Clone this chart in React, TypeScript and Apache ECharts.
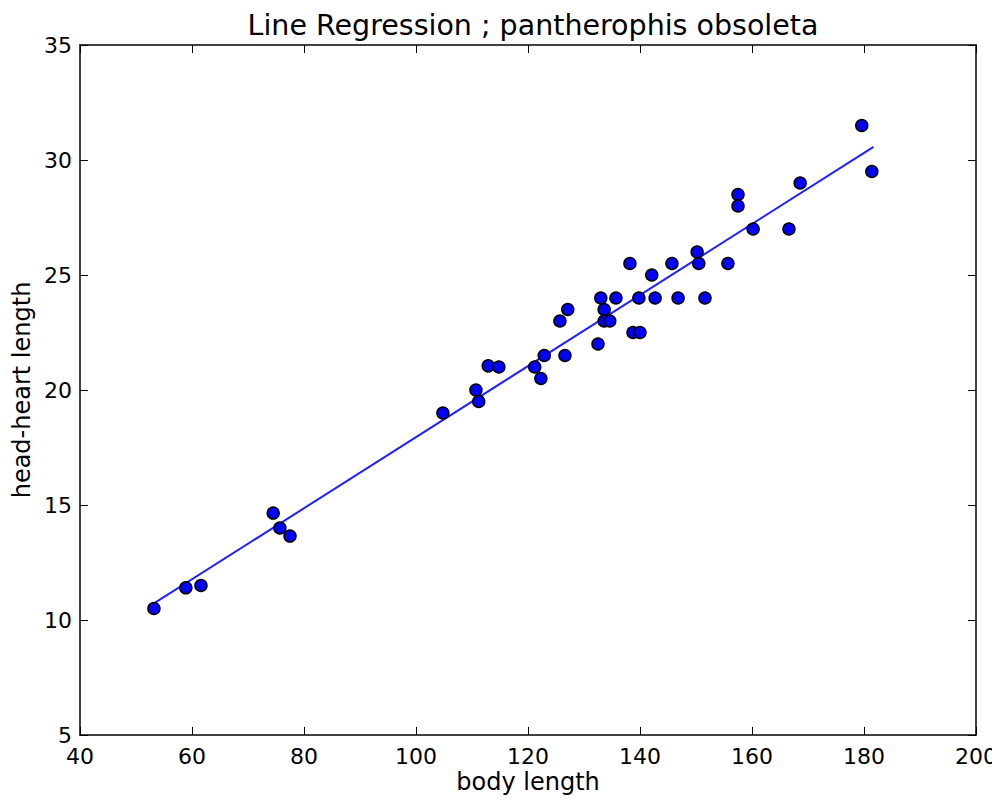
import React, { useEffect, useRef } from "react";
import * as echarts from "echarts";

const bodyLength = [
  53.2, 58.9, 61.6, 74.5, 75.7, 77.5, 104.8, 110.7, 111.2, 112.9, 114.8, 121.2, 122.3, 122.9,
  126.6, 125.7, 127.1, 132.5, 133.0, 133.6, 133.6, 134.6, 135.7, 138.2, 138.75, 140.0, 139.8,
  142.1, 142.7, 145.7, 146.8, 150.2, 150.5, 151.6, 155.7, 157.5, 157.5, 160.2, 166.6, 168.6,
  179.6, 181.4,
];
const headHeart = [
  10.5, 11.4, 11.5, 14.65, 14.0, 13.65, 19.0, 20.0, 19.5, 21.05, 21.0, 21.0, 20.5, 21.5,
  21.5, 23.0, 23.5, 22.0, 24.0, 23.5, 23.0, 23.0, 24.0, 25.5, 22.5, 22.5, 24.0,
  25.0, 24.0, 25.5, 24.0, 26.0, 25.5, 24.0, 25.5, 28.5, 28.0, 27.0, 27.0, 29.0,
  31.5, 29.5,
];
const fitLineX = [53.2, 181.7];
const fitLineY = [10.72, 30.57];
const xTicks = [40, 60, 80, 100, 120, 140, 160, 180, 200];
const yTicks = [5, 10, 15, 20, 25, 30, 35];

const FONT = "DejaVu Sans";

export default function App() {
  const ref = useRef<HTMLDivElement>(null);
  useEffect(() => {
    if (!ref.current) return;
    const chart = echarts.init(ref.current, null, { renderer: "svg" });
    const axisCommon = {
      axisLine: { show: true, onZero: false, lineStyle: { color: "#000", width: 1.5 } },
      axisTick: { show: true, inside: true, length: 8, lineStyle: { color: "#000", width: 1 } },
      splitLine: { show: false },
    };
    const xMin = xTicks[0];
    const xMax = xTicks[xTicks.length - 1];
    const yMin = yTicks[0];
    const yMax = yTicks[yTicks.length - 1];
    chart.setOption({
      animation: false,
      backgroundColor: "#fff",
      title: {
        text: "Line Regression ; pantherophis obsoleta",
        left: 528,
        top: 6,
        textAlign: "center",
        textStyle: { fontFamily: FONT, fontSize: 28.5, fontWeight: "normal", color: "#000" },
      },
      grid: { left: 80, right: 24, top: 45, bottom: 68 },
      xAxis: [
        {
          type: "value",
          min: xMin,
          max: xMax,
          interval: 20,
          position: "bottom",
          name: "body length",
          nameLocation: "middle",
          nameGap: 35,
          nameMoveOverlap: false,
          nameTextStyle: { fontFamily: FONT, fontSize: 24, color: "#000" },
          axisLabel: { fontFamily: FONT, fontSize: 22, lineHeight: 18, color: "#000", margin: 12 },
          ...axisCommon,
        },
        {
          type: "value",
          min: xMin,
          max: xMax,
          interval: 20,
          position: "top",
          axisLabel: { show: false },
          ...axisCommon,
        },
      ],
      yAxis: [
        {
          type: "value",
          min: yMin,
          max: yMax,
          interval: 5,
          position: "left",
          name: "head-heart length",
          nameLocation: "middle",
          nameGap: 46,
          nameMoveOverlap: false,
          nameTextStyle: { fontFamily: FONT, fontSize: 24, color: "#000" },
          axisLabel: { fontFamily: FONT, fontSize: 22, lineHeight: 16, color: "#000", margin: 8 },
          ...axisCommon,
        },
        {
          type: "value",
          min: yMin,
          max: yMax,
          interval: 5,
          position: "right",
          axisLabel: { show: false },
          ...axisCommon,
        },
      ],
      series: [
        {
          type: "line",
          data: fitLineX.map((x, i) => [x, fitLineY[i]]),
          showSymbol: false,
          symbol: "none",
          lineStyle: { color: "#2020ff", width: 2 },
          z: 2,
        },
        {
          type: "scatter",
          data: bodyLength.map((x, i) => [x, headHeart[i]]),
          symbol: "circle",
          symbolSize: 12,
          itemStyle: { color: "#0000ff", borderColor: "#000", borderWidth: 1.5, opacity: 1 },
          z: 3,
        },
      ],
    });
    return () => chart.dispose();
  }, []);
  return <div ref={ref} style={{ width: 1000, height: 803, margin: -8 }} />;
}
